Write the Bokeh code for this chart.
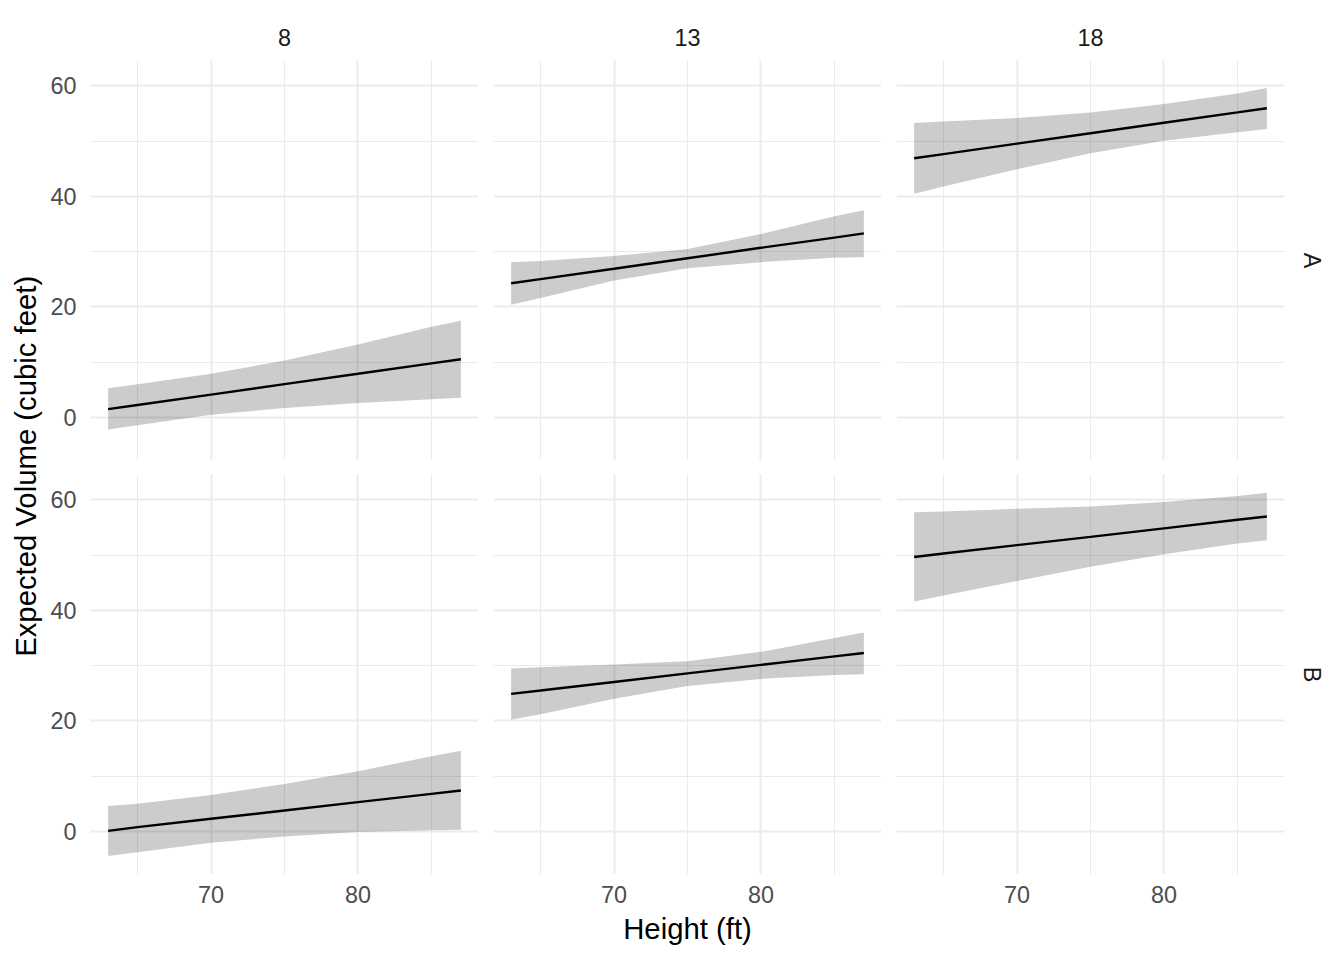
import math
from bokeh.plotting import figure
from bokeh.models import Range1d, LinearAxis, FixedTicker, Grid, Title, Label, GridBox
from bokeh.embed import file_html
from bokeh.resources import INLINE

# ---------------- data ----------------
heights = [63, 65, 70, 75, 80, 85, 87]
diameters = ["8", "13", "18"]
groups = ["A", "B"]

fit_A_8 = [1.5, 2.25, 4.14, 6.02, 7.9, 9.79, 10.54]
lo_A_8 = [-2.2, -1.4, 0.5, 1.7, 2.6, 3.3, 3.55]
hi_A_8 = [5.3, 6.0, 7.9, 10.3, 13.2, 16.4, 17.5]

fit_A_13 = [24.28, 25.03, 26.9, 28.8, 30.7, 32.55, 33.3]
lo_A_13 = [20.4, 21.6, 24.8, 27.0, 28.1, 28.9, 29.0]
hi_A_13 = [28.1, 28.3, 29.2, 30.5, 33.2, 36.4, 37.5]

fit_A_18 = [46.9, 47.65, 49.54, 51.43, 53.32, 55.2, 55.96]
lo_A_18 = [40.5, 41.8, 44.9, 47.8, 50.06, 51.6, 52.2]
hi_A_18 = [53.3, 53.55, 54.2, 55.2, 56.7, 58.6, 59.6]

fit_B_8 = [0.1, 0.78, 2.29, 3.79, 5.3, 6.8, 7.4]
lo_B_8 = [-4.45, -3.75, -2.05, -0.9, -0.1, 0.2, 0.3]
hi_B_8 = [4.6, 5.0, 6.6, 8.6, 10.9, 13.6, 14.6]

fit_B_13 = [24.9, 25.5, 27.05, 28.6, 30.14, 31.68, 32.3]
lo_B_13 = [20.2, 21.2, 24.0, 26.3, 27.6, 28.3, 28.45]
hi_B_13 = [29.5, 29.7, 30.2, 30.8, 32.5, 35.0, 36.0]

fit_B_18 = [49.67, 50.3, 51.8, 53.3, 54.85, 56.4, 56.98]
lo_B_18 = [41.6, 42.7, 45.3, 47.9, 50.15, 52.1, 52.7]
hi_B_18 = [57.76, 57.9, 58.4, 58.8, 59.6, 60.7, 61.3]

x_major = [70, 80]
x_minor = [65, 75, 85]
y_major = [0, 20, 40, 60]
y_minor = [10, 30, 50]

panels = {
    ("A", "8"): (fit_A_8, lo_A_8, hi_A_8),
    ("A", "13"): (fit_A_13, lo_A_13, hi_A_13),
    ("A", "18"): (fit_A_18, lo_A_18, hi_A_18),
    ("B", "8"): (fit_B_8, lo_B_8, hi_B_8),
    ("B", "13"): (fit_B_13, lo_B_13, hi_B_13),
    ("B", "18"): (fit_B_18, lo_B_18, hi_B_18),
}

# ---------------- style ----------------
FONT = "Liberation Sans"
TICK_SIZE = "23.4px"
TITLE_SIZE = "29.3px"
GRID_COL = "#EBEBEB"
FRAME_W, FRAME_H = 388, 400
GAP_X, GAP_Y = 15, 14
YT_W = 44
TOP_B, BOT_B, LEFT_B, RIGHT_B = 60, 84, 46, 56
TOTAL_H = TOP_B + FRAME_H + GAP_Y + FRAME_H + BOT_B


def make_panel(r, c):
    g = groups[r]
    d = diameters[c]
    fit, lo, hi = panels[(g, d)]
    bl = LEFT_B if c == 0 else GAP_X
    br = RIGHT_B if c == 2 else 0
    bt = TOP_B if r == 0 else GAP_Y
    bb = BOT_B if r == 1 else 0
    p = figure(frame_width=FRAME_W, frame_height=FRAME_H,
               x_range=Range1d(61.8, 88.2), y_range=Range1d(-7.79, 64.59),
               x_axis_type=None, y_axis_type=None,
               toolbar_location=None, output_backend="svg", title=None,
               min_border_left=bl, min_border_right=br,
               min_border_top=bt, min_border_bottom=bb)
    p.outline_line_color = None
    p.background_fill_color = "white"
    p.border_fill_color = "white"

    p.add_layout(Grid(dimension=0, ticker=FixedTicker(ticks=x_major, minor_ticks=x_minor),
                      grid_line_color=GRID_COL, grid_line_width=2,
                      minor_grid_line_color=GRID_COL, minor_grid_line_width=1))
    p.add_layout(Grid(dimension=1, ticker=FixedTicker(ticks=y_major, minor_ticks=y_minor),
                      grid_line_color=GRID_COL, grid_line_width=2,
                      minor_grid_line_color=GRID_COL, minor_grid_line_width=1))

    p.varea(x=heights, y1=lo, y2=hi, fill_color="black", fill_alpha=0.2)
    p.line(x=heights, y=fit, line_color="black", line_width=2.4)

    if c == 0:
        ax = LinearAxis(ticker=FixedTicker(ticks=y_major))
        ax.axis_line_color = None
        ax.major_tick_line_color = None
        ax.minor_tick_line_color = None
        ax.major_tick_out = 0
        ax.major_tick_in = 0
        ax.minor_tick_out = 0
        ax.major_label_standoff = 14
        ax.major_label_text_font = FONT
        ax.major_label_text_font_size = TICK_SIZE
        ax.major_label_text_color = "#4D4D4D"
        p.add_layout(ax, "left")
    if r == 1:
        ax = LinearAxis(ticker=FixedTicker(ticks=x_major))
        ax.axis_line_color = None
        ax.major_tick_line_color = None
        ax.minor_tick_line_color = None
        ax.major_tick_out = 0
        ax.major_tick_in = 0
        ax.minor_tick_out = 0
        ax.major_label_standoff = 11
        ax.major_label_text_font = FONT
        ax.major_label_text_font_size = TICK_SIZE
        ax.major_label_text_color = "#4D4D4D"
        if c == 1:
            ax.axis_label = "Height (ft)"
            ax.axis_label_text_font = FONT
            ax.axis_label_text_font_size = TITLE_SIZE
            ax.axis_label_text_font_style = "normal"
            ax.axis_label_text_color = "black"
            ax.axis_label_standoff = 6
        p.add_layout(ax, "below")
    if r == 0:
        p.add_layout(Title(text=d, align="center", text_font=FONT, text_font_size=TICK_SIZE,
                           text_font_style="normal", text_color="#1A1A1A", standoff=29), "above")
    if c == 2:
        p.add_layout(Title(text=g, align="center", text_font=FONT, text_font_size=TICK_SIZE,
                           text_font_style="normal", text_color="#1A1A1A", standoff=29), "right")
    return p


# y-axis title column
yfig = figure(width=YT_W, height=TOTAL_H, x_range=Range1d(0, YT_W), y_range=Range1d(0, TOTAL_H),
              x_axis_type=None, y_axis_type=None, toolbar_location=None,
              output_backend="svg", title=None, min_border=0)
yfig.outline_line_color = None
yfig.add_layout(Label(x=25, y=TOTAL_H - 477.6, text="Expected Volume (cubic feet)", angle=math.pi / 2,
                      text_align="center", text_baseline="alphabetic",
                      text_font=FONT, text_font_size=TITLE_SIZE, text_color="black"))

children = [(yfig, 0, 0, 2, 1)]
for r in range(2):
    for c in range(3):
        children.append((make_panel(r, c), r, c + 1))

layout = GridBox(children=children, spacing=0)

open("out.html", "w").write(file_html(layout, INLINE))
